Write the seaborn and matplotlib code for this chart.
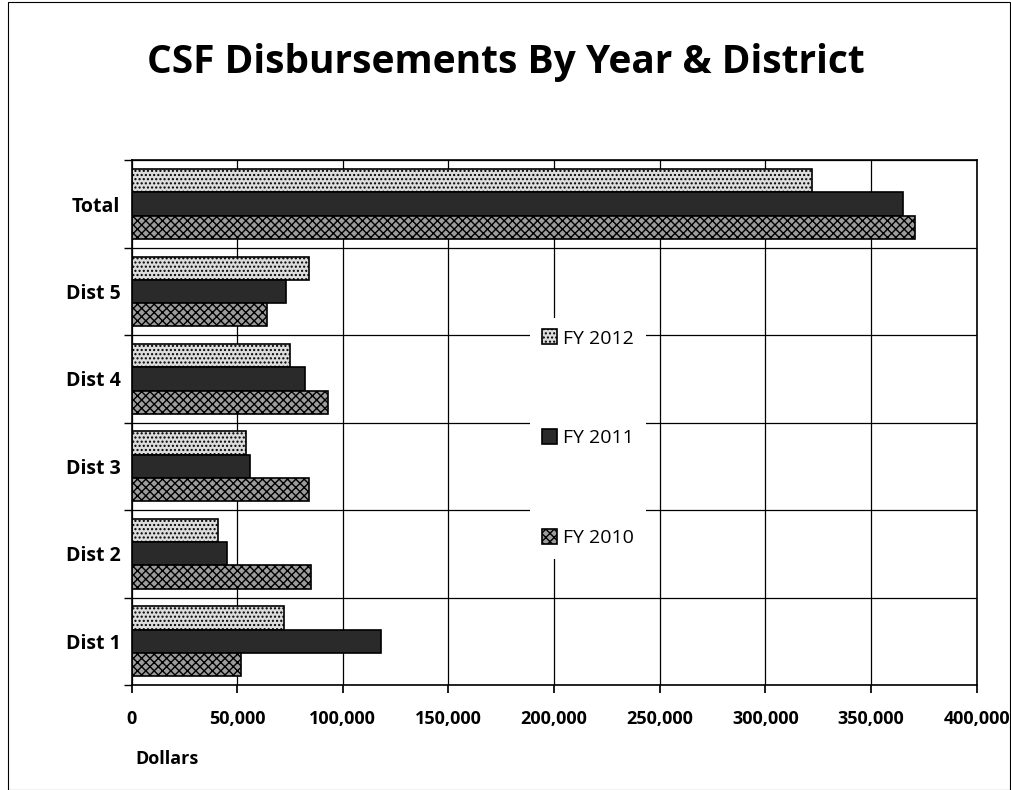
import pandas as pd
import seaborn as sns
import matplotlib.pyplot as plt
from matplotlib.patches import Rectangle
from matplotlib.ticker import FuncFormatter, MultipleLocator

categories = ["Total", "Dist 5", "Dist 4", "Dist 3", "Dist 2", "Dist 1"]
years = ["FY 2012", "FY 2011", "FY 2010"]
fy2012 = [322000, 84000, 75000, 54000, 41000, 72000]
fy2011 = [365000, 73000, 82000, 56000, 45000, 118000]
fy2010 = [371000, 64000, 93000, 84000, 85000, 52000]

df = pd.DataFrame({"district": categories * 3,
                   "year": [y for y in years for _ in categories],
                   "dollars": fy2012 + fy2011 + fy2010})

sns.set_theme(style="white")
plt.rcParams['font.family'] = ['Open Sans', 'DejaVu Sans']
plt.rcParams.update({"text.color": "black", "axes.labelcolor": "black",
                     "xtick.color": "black", "ytick.color": "black"})

fig = plt.figure(figsize=(10.12, 7.9), dpi=100)
ax = fig.add_axes([0.13, 0.133, 0.835, 0.664])

colors = ["#dcdcdc", "#2a2a2a", "#9c9c9c"]
sns.barplot(data=df, y="district", x="dollars", hue="year",
            order=categories, hue_order=years, palette=colors,
            orient="h", width=0.8, edgecolor="black", linewidth=1.2,
            legend=False, ax=ax)

hatches = ["....", "", "xxxx"]
for cont, h in zip(ax.containers, hatches):
    for p in cont:
        p.set_hatch(h)

ax.set_xlim(0, 400000)
ax.set_ylim(5.5, -0.5)
ax.xaxis.set_major_locator(MultipleLocator(50000))
ax.xaxis.set_major_formatter(FuncFormatter(lambda v, _: f"{int(v):,}"))
ax.yaxis.set_minor_locator(MultipleLocator(1, offset=0.5))
ax.grid(axis="x", color="black", linewidth=0.9)
ax.grid(axis="y", which="minor", color="black", linewidth=0.9)
ax.set_axisbelow(True)
for s in ax.spines.values():
    s.set_color("black")
    s.set_linewidth(1.2)

ax.tick_params(axis="both", which="major", length=6, color="black",
               direction="out", bottom=True, left=True)
ax.tick_params(axis="y", which="minor", length=6, left=True)
ax.tick_params(axis="y", which="major", length=0, pad=8)
for lab in ax.get_xticklabels():
    lab.set_fontweight("bold")
    lab.set_fontsize(13)
for lab in ax.get_yticklabels():
    lab.set_fontweight("bold")
    lab.set_fontsize(14)
ax.tick_params(axis="x", pad=12)

ax.set_ylabel("")
ax.set_xlabel("Dollars", fontsize=13, fontweight="bold", ha="left")
ax.xaxis.set_label_coords(0.005, -0.125)

leg = ax.legend(ax.containers, years, loc="center", bbox_to_anchor=(0.54, 0.47),
                frameon=True, fontsize=14, labelspacing=4.2, handlelength=0.8,
                handleheight=0.8, handletextpad=0.3, borderpad=0.6)
leg.get_frame().set_edgecolor("none")
leg.get_frame().set_facecolor("white")
leg.get_frame().set_alpha(1)

fig.suptitle("CSF Disbursements By Year & District", x=0.5, y=0.945,
             fontsize=28, fontweight="bold")

fig.patches.append(Rectangle((0.008, 0.0), 0.99, 0.998, transform=fig.transFigure,
                             fill=False, edgecolor="black", linewidth=0.8))

plt.savefig("out.png", dpi=100)
